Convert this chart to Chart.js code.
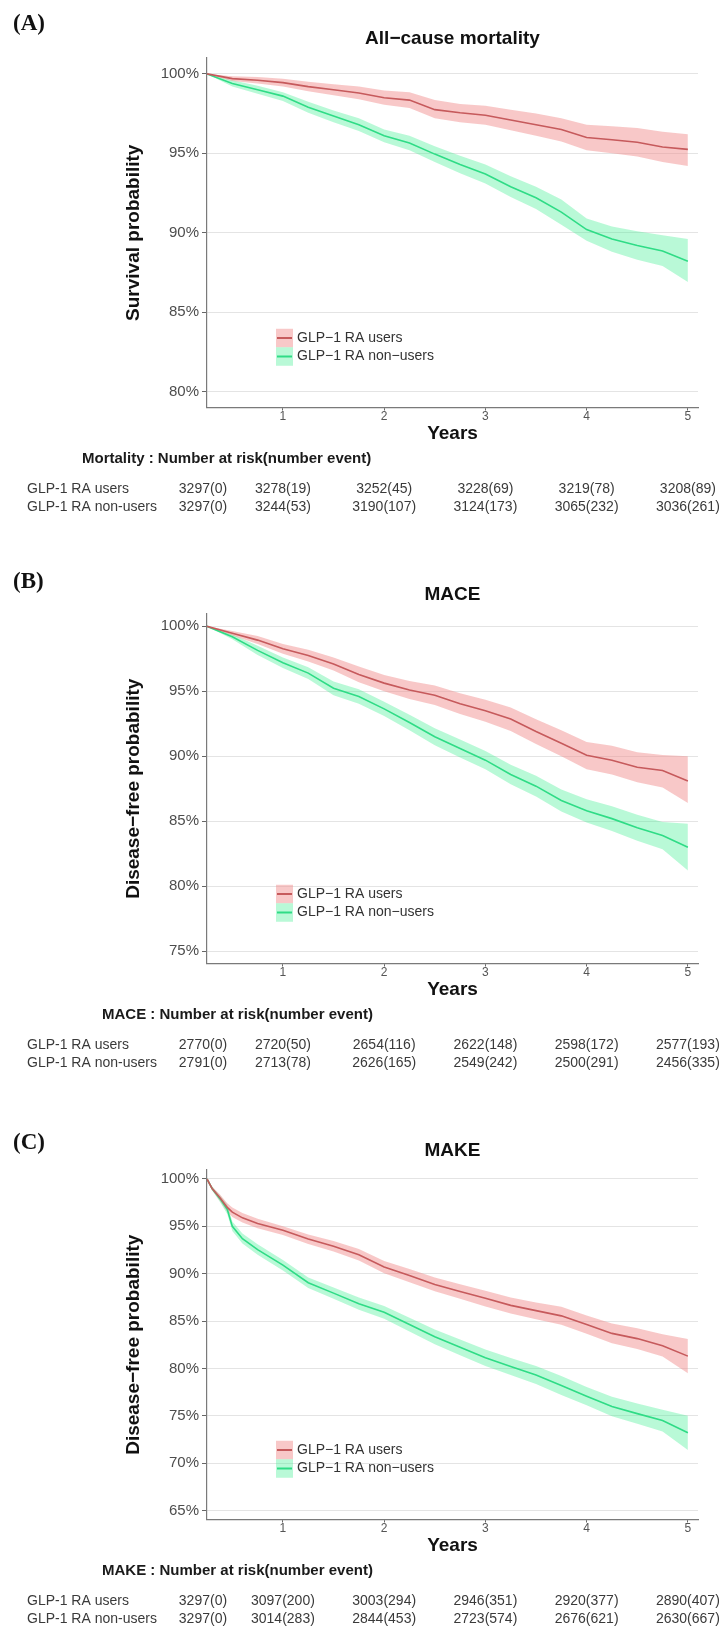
<!DOCTYPE html>
<html>
<head>
<meta charset="utf-8">
<script src="https://cdn.jsdelivr.net/npm/chart.js@4.4.0/dist/chart.umd.min.js"></script>
<style>
  html, body { margin: 0; padding: 0; background: #fff; overflow: hidden; }
  canvas { position: absolute; left: 0; }
</style>
</head>
<body>
<canvas id="chartA" style="top:0px" width="728" height="556"></canvas>
<canvas id="chartB" style="top:556px" width="728" height="556"></canvas>
<canvas id="chartC" style="top:1112px" width="728" height="517"></canvas>
<script>
// shared
var xTicks = [1, 2, 3, 4, 5];
var riskTimes = [0.21, 1, 2, 3, 4, 5];
var groupNames = ['GLP\u22121 RA users', 'GLP\u22121 RA non\u2212users'];
var rowNames = ['GLP-1 RA users', 'GLP-1 RA non-users'];

// (A) All-cause mortality
var timesA = [0.25, 0.5, 0.75, 1, 1.25, 1.5, 1.75, 2, 2.25, 2.5, 2.75, 3, 3.25, 3.5, 3.75, 4, 4.25, 4.5, 4.75, 5];
var usersA   = [100, 99.7, 99.6, 99.45, 99.2, 99.0, 98.8, 98.5, 98.35, 97.75, 97.55, 97.4, 97.1, 96.8, 96.5, 96.0, 95.85, 95.7, 95.4, 95.25];
var usersHiA = [100, 99.85, 99.8, 99.7, 99.5, 99.35, 99.2, 98.95, 98.85, 98.35, 98.1, 98.0, 97.75, 97.5, 97.2, 96.8, 96.7, 96.6, 96.35, 96.2];
var usersLoA = [100, 99.55, 99.4, 99.2, 98.9, 98.65, 98.4, 98.05, 97.85, 97.2, 96.95, 96.8, 96.45, 96.1, 95.75, 95.2, 95.0, 94.8, 94.45, 94.2];
var nonA     = [100, 99.4, 99.0, 98.6, 97.9, 97.35, 96.8, 96.1, 95.65, 94.95, 94.3, 93.7, 92.9, 92.2, 91.3, 90.2, 89.6, 89.2, 88.85, 88.2];
var nonHiA   = [100, 99.6, 99.25, 98.85, 98.25, 97.7, 97.2, 96.5, 96.1, 95.45, 94.85, 94.3, 93.55, 92.9, 92.1, 90.9, 90.4, 90.1, 89.85, 89.6];
var nonLoA   = [100, 99.2, 98.75, 98.3, 97.55, 96.95, 96.4, 95.7, 95.2, 94.45, 93.75, 93.1, 92.25, 91.5, 90.5, 89.5, 88.8, 88.3, 87.9, 86.9];
var yTicksA = [80, 85, 90, 95, 100];
var riskUsersA = ['3297(0)', '3278(19)', '3252(45)', '3228(69)', '3219(78)', '3208(89)'];
var riskNonA   = ['3297(0)', '3244(53)', '3190(107)', '3124(173)', '3065(232)', '3036(261)'];

// (B) MACE
var timesB = [0.25, 0.5, 0.75, 1, 1.25, 1.5, 1.75, 2, 2.25, 2.5, 2.75, 3, 3.25, 3.5, 3.75, 4, 4.25, 4.5, 4.75, 5];
var usersB   = [100, 99.47, 98.94, 98.28, 97.75, 97.1, 96.3, 95.63, 95.1, 94.7, 94.05, 93.5, 92.86, 91.9, 91.0, 90.08, 89.7, 89.15, 88.9, 88.1];
var usersHiB = [100, 99.65, 99.25, 98.65, 98.2, 97.6, 96.9, 96.25, 95.8, 95.45, 94.85, 94.35, 93.75, 92.85, 92.0, 91.1, 90.8, 90.3, 90.1, 90.0];
var usersLoB = [100, 99.3, 98.65, 97.9, 97.3, 96.6, 95.7, 95.0, 94.4, 93.95, 93.25, 92.65, 91.95, 90.95, 90.0, 89.0, 88.6, 88.0, 87.6, 86.4];
var nonB     = [100, 99.2, 98.15, 97.2, 96.4, 95.24, 94.6, 93.65, 92.6, 91.5, 90.6, 89.7, 88.6, 87.7, 86.6, 85.8, 85.2, 84.5, 83.9, 83.0];
var nonHiB   = [100, 99.4, 98.5, 97.6, 96.85, 95.75, 95.15, 94.2, 93.2, 92.15, 91.3, 90.4, 89.35, 88.5, 87.45, 86.7, 86.15, 85.5, 84.95, 84.8];
var nonLoB   = [100, 99.0, 97.8, 96.8, 95.95, 94.7, 94.05, 93.1, 92.0, 90.85, 89.9, 89.0, 87.85, 86.9, 85.75, 84.9, 84.25, 83.5, 82.85, 81.2];
var yTicksB = [75, 80, 85, 90, 95, 100];
var riskUsersB = ['2770(0)', '2720(50)', '2654(116)', '2622(148)', '2598(172)', '2577(193)'];
var riskNonB   = ['2791(0)', '2713(78)', '2626(165)', '2549(242)', '2500(291)', '2456(335)'];

// (C) MAKE
var timesC = [0.25, 0.3, 0.38, 0.45, 0.5, 0.6, 0.75, 1, 1.25, 1.5, 1.75, 2, 2.25, 2.5, 2.75, 3, 3.25, 3.5, 3.75, 4, 4.25, 4.5, 4.75, 5];
var usersC   = [100, 99.0, 98.0, 97.0, 96.5, 95.9, 95.3, 94.58, 93.66, 92.9, 92.0, 90.7, 89.8, 88.87, 88.13, 87.4, 86.66, 86.1, 85.55, 84.63, 83.7, 83.15, 82.4, 81.3];
var usersHiC = [100, 99.2, 98.35, 97.45, 97.0, 96.4, 95.8, 95.0, 94.15, 93.45, 92.6, 91.35, 90.5, 89.6, 88.9, 88.2, 87.5, 86.95, 86.5, 85.6, 84.75, 84.25, 83.6, 83.1];
var usersLoC = [100, 98.8, 97.65, 96.55, 96.0, 95.4, 94.8, 94.1, 93.15, 92.35, 91.4, 90.05, 89.1, 88.15, 87.35, 86.55, 85.8, 85.2, 84.6, 83.65, 82.65, 82.05, 81.25, 79.5];
var nonC     = [100, 99.0, 97.9, 96.8, 95.0, 93.7, 92.55, 90.9, 89.05, 87.95, 86.84, 85.92, 84.63, 83.34, 82.23, 81.13, 80.2, 79.3, 78.2, 77.07, 75.97, 75.23, 74.5, 73.2];
var nonHiC   = [100, 99.2, 98.25, 97.3, 95.5, 94.25, 93.1, 91.45, 89.6, 88.55, 87.5, 86.6, 85.35, 84.1, 83.05, 82.0, 81.1, 80.25, 79.2, 78.05, 77.0, 76.3, 75.65, 75.0];
var nonLoC   = [100, 98.8, 97.55, 96.3, 94.5, 93.2, 92.0, 90.35, 88.5, 87.35, 86.2, 85.25, 83.9, 82.55, 81.4, 80.25, 79.3, 78.35, 77.2, 76.1, 74.95, 74.15, 73.35, 71.4];
var yTicksC = [65, 70, 75, 80, 85, 90, 95, 100];
var riskUsersC = ['3297(0)', '3097(200)', '3003(294)', '2946(351)', '2920(377)', '2890(407)'];
var riskNonC   = ['3297(0)', '3014(283)', '2844(453)', '2723(574)', '2676(621)', '2630(667)'];

var redLine = '#c65a5c';
var redBand = 'rgba(240, 140, 140, 0.48)';
var greenLine = '#2fdc86';
var greenBand = 'rgba(70, 238, 150, 0.38)';

Chart.defaults.font.family = '"Liberation Sans", Arial, sans-serif';

// panel letter, title, legend and the number-at-risk table
var panelText = {
  id: 'panelText',
  afterDraw: function (chart) {
    var o = chart.options.plugins.panelText;
    var ctx = chart.ctx;
    var area = chart.chartArea;
    var xs = chart.scales.x;
    ctx.save();
    ctx.textBaseline = 'middle';

    ctx.fillStyle = '#111';
    ctx.textAlign = 'left';
    ctx.font = 'bold 23px "Liberation Serif"';
    ctx.fillText(o.letter, 13, o.letterY);

    ctx.textAlign = 'center';
    ctx.font = 'bold 19px "Liberation Sans"';
    ctx.fillText(o.title, (area.left + area.right) / 2, 39);

    // legend
    var keys = chart.data.datasets.filter(function (d) { return d.label; });
    ctx.font = '14px "Liberation Sans"';
    ctx.textAlign = 'left';
    keys.forEach(function (d, i) {
      var cy = 338 + i * 18.5;
      ctx.fillStyle = d.band;
      ctx.fillRect(276, cy - 9.25, 17, 18.5);
      ctx.strokeStyle = d.borderColor;
      ctx.lineWidth = 2;
      ctx.beginPath();
      ctx.moveTo(277, cy);
      ctx.lineTo(292, cy);
      ctx.stroke();
      ctx.fillStyle = '#333';
      ctx.fillText(d.label, 297, cy);
    });

    // number at risk
    ctx.fillStyle = '#1a1a1a';
    ctx.font = 'bold 15px "Liberation Sans"';
    ctx.fillText(o.header, o.headerX, 459);
    ctx.font = '14px "Liberation Sans"';
    ctx.fillStyle = '#3a3a3a';
    [o.riskUsers, o.riskNon].forEach(function (row, r) {
      var y = 489 + r * 18;
      ctx.textAlign = 'left';
      ctx.fillText(rowNames[r], 27, y);
      ctx.textAlign = 'center';
      row.forEach(function (txt, i) {
        ctx.fillText(txt, xs.getPixelForValue(riskTimes[i]), y);
      });
    });
    ctx.restore();
  }
};

function pts(times, vals) {
  return times.map(function (t, i) { return { x: t, y: vals[i] }; });
}

function band(times, vals, color, fill, order) {
  return { data: pts(times, vals), fill: fill, backgroundColor: color, borderWidth: 0, pointRadius: 0, order: order };
}

function drawPanel(id, h, p) {
  var ctx = document.getElementById(id).getContext('2d');
  return new Chart(ctx, {
    type: 'line',
    data: {
      datasets: [
        band(p.times, p.usersHi, redBand, '+1', 2),
        band(p.times, p.usersLo, redBand, false, 2),
        band(p.times, p.nonHi, greenBand, '+1', 3),
        band(p.times, p.nonLo, greenBand, false, 3),
        { label: groupNames[0], data: pts(p.times, p.users), borderColor: redLine, band: redBand,
          borderWidth: 1.6, pointRadius: 0, fill: false, order: 0 },
        { label: groupNames[1], data: pts(p.times, p.non), borderColor: greenLine, band: greenBand,
          borderWidth: 1.6, pointRadius: 0, fill: false, order: 1 }
      ]
    },
    plugins: [panelText],
    options: {
      responsive: false,
      animation: false,
      events: [],
      layout: { padding: { left: 122.6, right: 30, top: 58, bottom: h - 445.4 } },
      scales: {
        x: {
          type: 'linear',
          min: 0.25,
          max: 5.1,
          afterBuildTicks: function (s) { s.ticks = xTicks.map(function (v) { return { value: v }; }); },
          afterFit: function (s) { s.height = 37.9; },
          grid: { drawOnChartArea: false, tickLength: 3, tickColor: '#666' },
          border: { color: '#7a7a7a', width: 1.2 },
          ticks: { padding: 0, color: '#555', font: { size: 12, lineHeight: 1 },
                   callback: function (v) { return String(v); } },
          title: { display: true, text: 'Years', color: '#111', padding: 0,
                   font: { size: 19, weight: 'bold' } }
        },
        y: {
          min: p.yMin,
          max: p.yMax,
          afterBuildTicks: function (s) { s.ticks = p.yTicks.map(function (v) { return { value: v }; }); },
          afterFit: function (s) { s.width = 84.4; },
          grid: { color: '#e4e4e4', lineWidth: 1, tickLength: 5, tickColor: '#666' },
          border: { color: '#7a7a7a', width: 1.2 },
          ticks: { padding: 3, color: '#4d4d4d', font: { size: 15 },
                   callback: function (v) { return v + '%'; } },
          title: { display: true, text: p.yTitle, color: '#111', padding: 0,
                   font: { size: 19, weight: 'bold' } }
        }
      },
      plugins: {
        legend: { display: false },
        tooltip: { enabled: false },
        panelText: p
      }
    }
  });
}

drawPanel('chartA', 556, {
  times: timesA, users: usersA, usersHi: usersHiA, usersLo: usersLoA,
  non: nonA, nonHi: nonHiA, nonLo: nonLoA,
  yMin: 79, yMax: 101, yTicks: yTicksA, yTitle: 'Survival probability',
  letter: '(A)', letterY: 24, title: 'All\u2212cause mortality',
  header: 'Mortality : Number at risk(number event)', headerX: 82,
  riskUsers: riskUsersA, riskNon: riskNonA
});

drawPanel('chartB', 556, {
  times: timesB, users: usersB, usersHi: usersHiB, usersLo: usersLoB,
  non: nonB, nonHi: nonHiB, nonLo: nonLoB,
  yMin: 74.05, yMax: 100.95, yTicks: yTicksB, yTitle: 'Disease\u2212free probability',
  letter: '(B)', letterY: 26, title: 'MACE',
  header: 'MACE : Number at risk(number event)', headerX: 102,
  riskUsers: riskUsersB, riskNon: riskNonB
});

drawPanel('chartC', 517, {
  times: timesC, users: usersC, usersHi: usersHiC, usersLo: usersLoC,
  non: nonC, nonHi: nonHiC, nonLo: nonLoC,
  yMin: 64.05, yMax: 100.95, yTicks: yTicksC, yTitle: 'Disease\u2212free probability',
  letter: '(C)', letterY: 31, title: 'MAKE',
  header: 'MAKE : Number at risk(number event)', headerX: 102,
  riskUsers: riskUsersC, riskNon: riskNonC
});
</script>
</body>
</html>
